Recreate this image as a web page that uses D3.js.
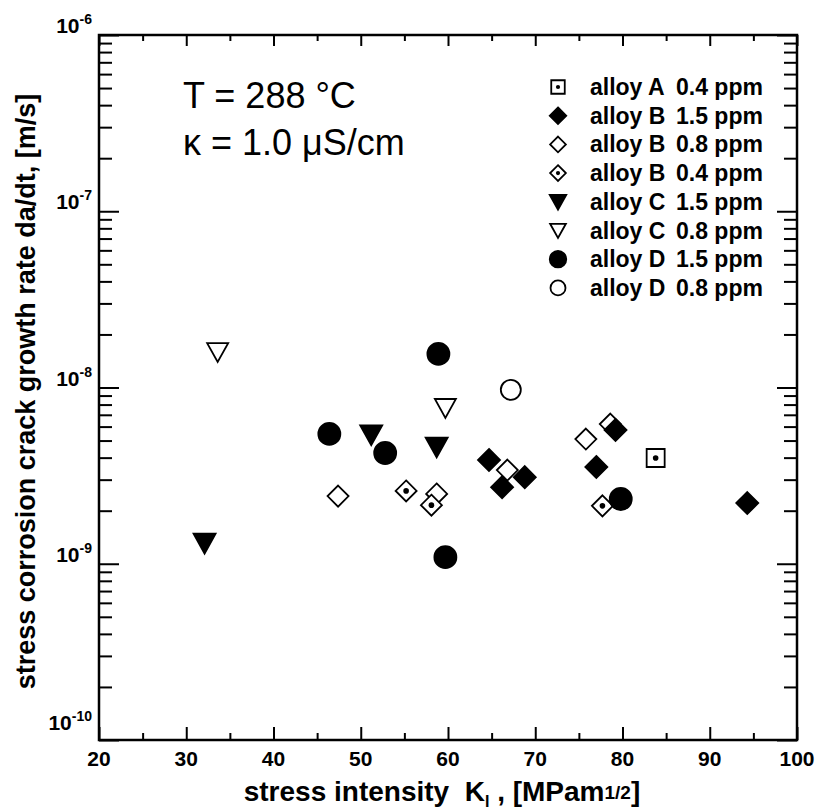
<!DOCTYPE html>
<html>
<head>
<meta charset="UTF-8">
<style>
  body { margin: 0; background: #fff; }
  text { font-family: "Liberation Sans", Arial, sans-serif; fill: #000; white-space: pre; }
</style>
</head>
<body>
<div id="chart"></div>
<script src="https://d3js.org/d3.v7.min.js"></script>
<script>
// ---- data ----
const seriesLabels = ["alloy A", "alloy B", "alloy B", "alloy B", "alloy C", "alloy C", "alloy D", "alloy D"];
const seriesConc = ["0.4 ppm", "1.5 ppm", "0.8 ppm", "0.4 ppm", "1.5 ppm", "0.8 ppm", "1.5 ppm", "0.8 ppm"];

const alloyA04_K = [83.8];
const alloyA04_v = [3.98e-9];
const alloyB15_K = [64.7, 66.2, 68.8, 77.0, 79.2, 94.3];
const alloyB15_v = [3.88e-9, 2.72e-9, 3.10e-9, 3.54e-9, 5.74e-9, 2.21e-9];
const alloyB08_K = [47.4, 58.7, 66.8, 75.8, 78.6];
const alloyB08_v = [2.42e-9, 2.49e-9, 3.40e-9, 5.1e-9, 6.2e-9];
const alloyB04_K = [55.2, 58.1, 77.7];
const alloyB04_v = [2.59e-9, 2.15e-9, 2.13e-9];
const alloyC15_K = [32.1, 51.2, 58.7];
const alloyC15_v = [1.31e-9, 5.4e-9, 4.6e-9];
const alloyC08_K = [33.6, 59.7];
const alloyC08_v = [1.59e-8, 7.66e-9];
const alloyD15_K = [46.4, 52.8, 58.9, 59.7, 79.8];
const alloyD15_v = [5.45e-9, 4.25e-9, 1.55e-8, 1.09e-9, 2.33e-9];
const alloyD08_K = [67.2];
const alloyD08_v = [9.7e-9];

const xTicks = [20, 30, 40, 50, 60, 70, 80, 90, 100];
const yDecades = [1e-10, 1e-9, 1e-8, 1e-7, 1e-6];
const yExponents = ["-10", "-9", "-8", "-7", "-6"];

// ---- layout ----
const W = 816, H = 812;
const margin = { top: 35, right: 19, bottom: 72, left: 99 };
const width = W - margin.left - margin.right,
      height = H - margin.top - margin.bottom;

const svg = d3.select("#chart").append("svg")
    .attr("width", W).attr("height", H);
const g = svg.append("g")
    .attr("transform", "translate(" + margin.left + "," + margin.top + ")");

const x = d3.scaleLinear().domain([20, 100]).range([0, width]);
const y = d3.scaleLog().domain([1e-10, 1e-6]).range([height, 0]);

// minor ticks of the log axis (2..9 in each decade)
const yMinor = y.ticks().filter(v =>
    Math.abs(Math.log10(v) - Math.round(Math.log10(v))) > 1e-6);
const xMinor = d3.range(25, 100, 10);

function styleAxis(sel) {
  sel.select(".domain").remove();
  sel.selectAll("line").attr("stroke", "#000").attr("stroke-width", 2);
  sel.selectAll("text").remove();
}

// left / right axes, ticks pointing inward
g.append("g").call(d3.axisLeft(y).tickValues(yDecades).tickSize(-20)).call(styleAxis);
g.append("g").call(d3.axisLeft(y).tickValues(yMinor).tickSize(-13)).call(styleAxis);
g.append("g").attr("transform", "translate(" + width + ",0)")
  .call(d3.axisRight(y).tickValues(yDecades).tickSize(-20)).call(styleAxis);
g.append("g").attr("transform", "translate(" + width + ",0)")
  .call(d3.axisRight(y).tickValues(yMinor).tickSize(-13)).call(styleAxis);

// bottom / top axes
g.append("g").attr("transform", "translate(0," + height + ")")
  .call(d3.axisBottom(x).tickValues(xTicks).tickSize(-13)).call(styleAxis);
g.append("g").attr("transform", "translate(0," + height + ")")
  .call(d3.axisBottom(x).tickValues(xMinor).tickSize(-7)).call(styleAxis);
g.append("g").call(d3.axisTop(x).tickValues(xTicks).tickSize(-11)).call(styleAxis);
g.append("g").call(d3.axisTop(x).tickValues(xMinor).tickSize(-6)).call(styleAxis);

// frame
g.append("rect")
  .attr("width", width).attr("height", height)
  .attr("fill", "none").attr("stroke", "#000").attr("stroke-width", 2.5);

// x tick labels
g.selectAll(".xlab").data(xTicks).enter().append("text")
  .attr("x", d => x(d)).attr("y", height + 26)
  .attr("text-anchor", "middle")
  .style("font-size", "21px").style("font-weight", "bold")
  .text(d => d);

// y tick labels 10^n
const ylab = g.selectAll(".ylab").data(yDecades).enter().append("text")
  .attr("x", -7).attr("y", (d, i) => y(d) - (i === 0 ? 10 : 2))
  .attr("text-anchor", "end")
  .style("font-size", "21px").style("font-weight", "bold");
ylab.append("tspan").text("10");
ylab.append("tspan").attr("dy", -9).style("font-size", "14px")
  .text((d, i) => yExponents[i]);

// axis titles
const xt = svg.append("text")
  .attr("x", margin.left + width / 2 - 6).attr("y", 801)
  .attr("text-anchor", "middle")
  .style("font-size", "28px").style("font-weight", "bold");
xt.append("tspan").text("stress intensity  K");
xt.append("tspan").attr("dy", 6).style("font-size", "16px").text("I");
xt.append("tspan").attr("dy", -6).text(" , [MPam");
xt.append("tspan").attr("dy", -2).style("font-size", "19px").text("1/2");
xt.append("tspan").attr("dy", 2).text("]");

svg.append("text")
  .attr("transform", "translate(35," + (margin.top + height / 2 + 4) + ") rotate(-90)")
  .attr("text-anchor", "middle")
  .style("font-size", "27px").style("font-weight", "bold")
  .text("stress corrosion crack growth rate da/dt, [m/s]");

// annotation
svg.append("text").attr("x", 183).attr("y", 108)
  .style("font-size", "36px").text("T = 288 \u00B0C");
svg.append("text").attr("x", 183).attr("y", 155)
  .style("font-size", "36px").text("\u03BA = 1.0 \u03BCS/cm");

// ---- markers ----
function markerPath(shape, s) {
  if (shape === "square") return "M" + (-s) + "," + (-s) + "h" + (2 * s) + "v" + (2 * s) + "h" + (-2 * s) + "Z";
  if (shape === "diamond") return "M0," + (-s) + "L" + s + ",0L0," + s + "L" + (-s) + ",0Z";
  if (shape === "tridown") return "M" + (-s) + "," + (-0.85 * s) + "L" + s + "," + (-0.85 * s) + "L0," + (0.95 * s) + "Z";
  return null;
}

function drawMarker(sel, st, scale) {
  const k = scale || 1;
  if (st.shape === "circle") {
    sel.append("circle").attr("r", st.size * k)
      .attr("fill", st.filled ? "#000" : "#fff")
      .attr("stroke", "#000").attr("stroke-width", 1.8);
  } else {
    sel.append("path").attr("d", markerPath(st.shape, st.size * k))
      .attr("fill", st.filled ? "#000" : "#fff")
      .attr("stroke", "#000").attr("stroke-width", 1.8)
      .attr("stroke-linejoin", "miter");
  }
  if (st.dot) sel.append("circle").attr("r", 2.8 * k).attr("fill", "#000");
}

const series = [
  { K: alloyA04_K, v: alloyA04_v, shape: "square", size: 9, filled: false, dot: true },
  { K: alloyB15_K, v: alloyB15_v, shape: "diamond", size: 11, filled: true },
  { K: alloyB08_K, v: alloyB08_v, shape: "diamond", size: 10.5, filled: false },
  { K: alloyB04_K, v: alloyB04_v, shape: "diamond", size: 10.5, filled: false, dot: true },
  { K: alloyC15_K, v: alloyC15_v, shape: "tridown", size: 11, filled: true },
  { K: alloyC08_K, v: alloyC08_v, shape: "tridown", size: 10.5, filled: false },
  { K: alloyD15_K, v: alloyD15_v, shape: "circle", size: 11, filled: true },
  { K: alloyD08_K, v: alloyD08_v, shape: "circle", size: 10, filled: false }
];

// draw order: open B diamonds under the filled ones
const drawOrder = [0, 2, 1, 3, 4, 5, 6, 7];
drawOrder.forEach(i => {
  const st = series[i];
  st.K.forEach((k, j) => {
    const m = g.append("g").attr("transform", "translate(" + x(k) + "," + y(st.v[j]) + ")");
    drawMarker(m, st, 1);
  });
});

// ---- legend ----
const legend = svg.append("g");
series.forEach((st, i) => {
  const row = legend.append("g").attr("transform", "translate(0," + (87 + i * 28.7) + ")");
  const m = row.append("g").attr("transform", "translate(558,0)");
  drawMarker(m, st, 0.75);
  row.append("text").attr("x", 590).attr("y", 8)
    .style("font-size", "23px").style("font-weight", "bold").text(seriesLabels[i]);
  row.append("text").attr("x", 676).attr("y", 8)
    .style("font-size", "23px").style("font-weight", "bold").text(seriesConc[i]);
});
</script>
</body>
</html>
